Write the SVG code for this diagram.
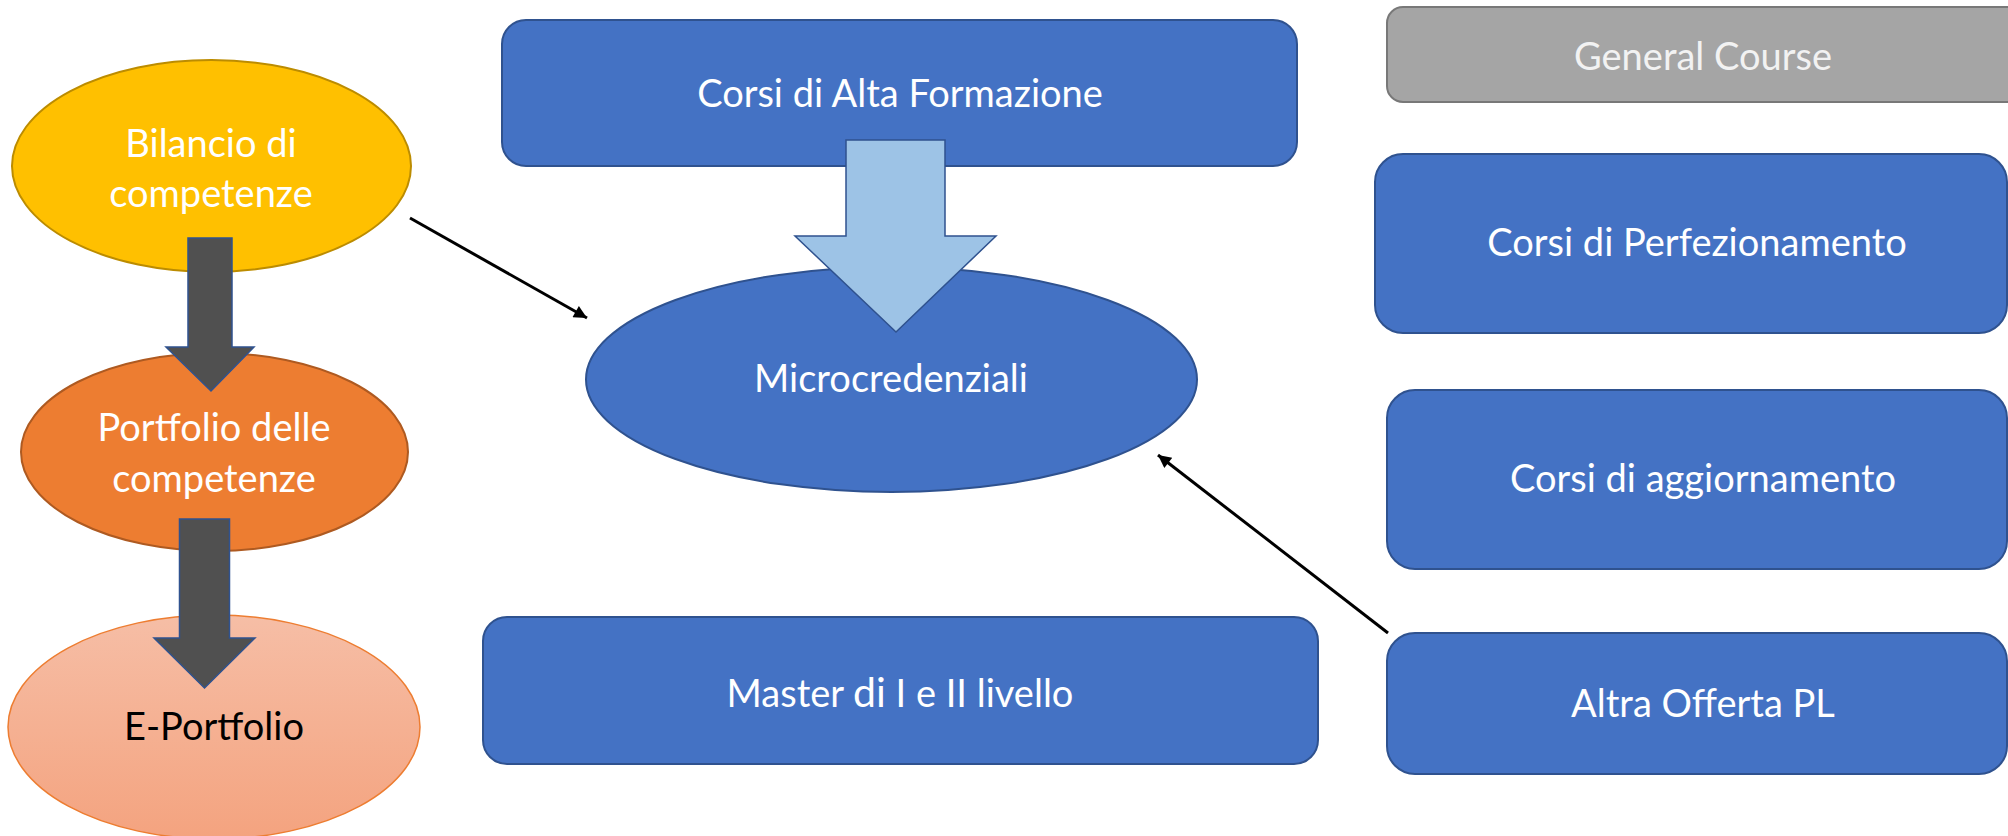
<svg xmlns="http://www.w3.org/2000/svg" width="2008" height="836" viewBox="0 0 2008 836">
<style>
.blue{fill:#4472C4;stroke:#2F528F;stroke-width:2}
.lbl{font-family:Lato,"Open Sans","Liberation Sans",sans-serif;font-size:38px;fill:#FFFFFF;text-anchor:middle}
.conn{stroke:#000;stroke-width:3;fill:none}
.dark{fill:#505050;stroke:#2F528F;stroke-width:1.5}
</style>
<defs>
<marker id="ah" viewBox="0 0 10 10" refX="10" refY="5" markerWidth="17" markerHeight="13" markerUnits="userSpaceOnUse" orient="auto">
<path d="M0,0 L10,5 L0,10 z" fill="#000"/>
</marker>
<linearGradient id="eg" x1="0" y1="0" x2="0" y2="1">
<stop offset="0" stop-color="#F6BEA6"/>
<stop offset="1" stop-color="#F4A37F"/>
</linearGradient>
</defs>
<rect width="2008" height="836" fill="#FFFFFF"/>
<g id="nodes">
<g id="bilancio">
<ellipse cx="211.5" cy="166" rx="199.5" ry="106" fill="#FFC000" stroke="#BC8C00" stroke-width="2"/>
<text class="lbl" x="211" y="157">Bilancio di</text>
<text class="lbl" x="211" y="207">competenze</text>
</g>
<g id="portfolio">
<ellipse cx="214.5" cy="452" rx="193.5" ry="99" fill="#ED7D31" stroke="#AE5A21" stroke-width="2"/>
<text class="lbl" x="214" y="441">Portfolio delle</text>
<text class="lbl" x="214" y="492">competenze</text>
</g>
<g id="eportfolio">
<ellipse cx="214" cy="727" rx="206" ry="112" fill="url(#eg)" stroke="#ED7D31" stroke-width="1.5"/>
<text class="lbl" x="214" y="740" style="fill:#000000">E-Portfolio</text>
</g>
<g id="altaformazione">
<rect class="blue" x="502" y="20" width="795" height="146" rx="24"/>
<text class="lbl" x="900" y="107">Corsi di Alta Formazione</text>
</g>
<g id="microcredenziali">
<ellipse class="blue" cx="891.5" cy="379.5" rx="305.5" ry="112.5"/>
<text class="lbl" x="891" y="392">Microcredenziali</text>
</g>
<g id="master">
<rect class="blue" x="483" y="617" width="835" height="147" rx="24"/>
<text class="lbl" x="900" y="707">Master <tspan style="font-size:41px">di</tspan> I e II livello</text>
</g>
<g id="general">
<rect x="1387" y="7" width="640" height="95" rx="16" fill="#A5A5A5" stroke="#787878" stroke-width="2"/>
<text class="lbl" x="1703" y="70" style="fill:#F2F2F2">General Course</text>
</g>
<g id="perfezionamento">
<rect class="blue" x="1375" y="154" width="632" height="179" rx="28"/>
<text class="lbl" x="1697" y="256">Corsi di Perfezionamento</text>
</g>
<g id="aggiornamento">
<rect class="blue" x="1387" y="390" width="620" height="179" rx="28"/>
<text class="lbl" x="1703" y="492">Corsi di aggiornamento</text>
</g>
<g id="altraofferta">
<rect class="blue" x="1387" y="633" width="620" height="141" rx="28"/>
<text class="lbl" x="1703" y="717">Altra Offerta PL</text>
</g>
</g>
<g id="connectors">
<polygon class="dark" points="188,238 232,238 232,347 254,347 211,391 166,347 188,347"/>
<polygon class="dark" points="179.5,519 229.5,519 229.5,638 255,638 204.5,688 154,638 179.5,638"/>
<polygon points="846,140 945,140 945,236 996,236 896,332 795,236 846,236" fill="#9DC3E6" stroke="#2F528F" stroke-width="1.5"/>
<line class="conn" x1="410" y1="218" x2="587" y2="318" marker-end="url(#ah)"/>
<line class="conn" x1="1388" y1="633" x2="1158" y2="455" marker-end="url(#ah)"/>
</g>
</svg>
